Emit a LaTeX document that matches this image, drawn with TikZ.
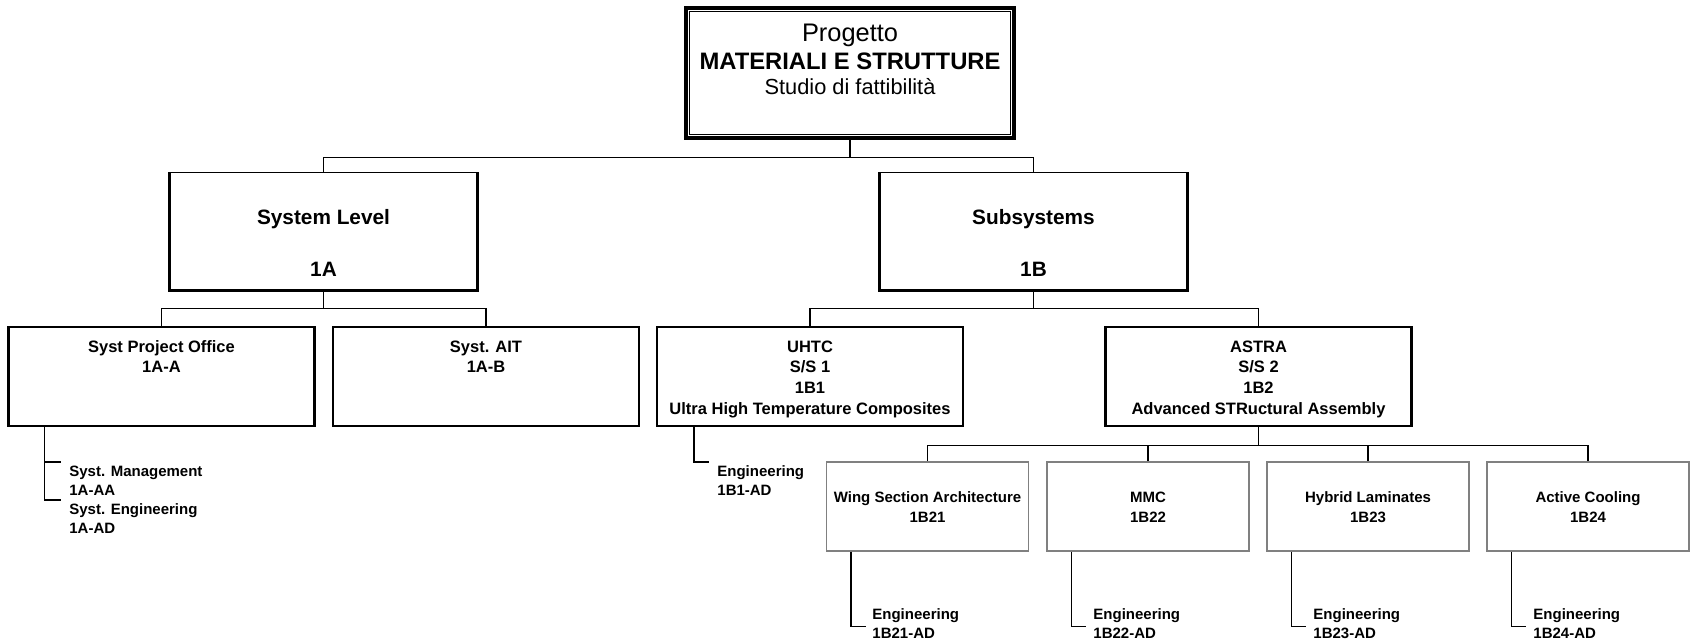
\documentclass[tikz,border=0pt]{standalone}
\usepackage{fontspec}
\setmainfont{Liberation Sans}
\begin{document}
\begin{tikzpicture}[x=0.5pt,y=-0.5pt,
  conn/.style={line width=0.65pt},
  subline/.style={line width=0.75pt},
  topbox/.style={draw,line width=1.6pt,fill=white,minimum width=164pt,minimum height=65pt,inner sep=0pt},
  lvtwo/.style={draw,line width=0.5pt,fill=white,minimum width=153.5pt,minimum height=58.5pt,inner sep=0pt},
  lvtwoedge/.style={line width=1.3pt},
  lvthree/.style={draw,line width=1.15pt,fill=white,minimum width=153pt,minimum height=49.5pt,inner sep=0pt},
  lvfour/.style={draw=black!50,line width=0.6pt,fill=white,minimum width=101pt,minimum height=44.5pt,inner sep=0pt},
  lbl/.style={inner sep=0pt,anchor=base,align=center},
  sublbl/.style={inner sep=0pt,anchor=base west,align=left,font=\fontsize{7.5}{9.5}\selectfont\bfseries},
  twofont/.style={font=\fontsize{10.4}{26}\selectfont\bfseries},
  threefont/.style={font=\fontsize{8.25}{10.35}\selectfont\bfseries},
  fourfont/.style={font=\fontsize{7.5}{10}\selectfont\bfseries}]
\useasboundingbox (0,0) rectangle (1690,641);

% project box with double frame
\node[topbox] (top) at (850,73) {};
\draw[line width=0.65pt] ([shift={(5,5)}]top.north west) rectangle ([shift={(-5,-5)}]top.south east);
\node[lbl,font=\fontsize{12.7}{14}\selectfont] (topa) at (850,42) {Progetto};
\node[lbl,font=\fontsize{11.9}{14}\selectfont\bfseries] (topb) at (850,69.5) {MATERIALI E STRUTTURE};
\node[lbl,font=\fontsize{10.9}{13}\selectfont] (topc) at (850,95) {Studio di fattibilità};

% second level (labels are placed by the baseline of their last line)
\node[lvtwo] (sl) at (323.5,231.5) {};
\node[lvtwo] (ss) at (1033.5,231.5) {};
\foreach \b in {sl,ss}
  \draw[lvtwoedge] (\b.north west) -- (\b.south west) -- (\b.south east) -- (\b.north east);
\node[lbl,twofont] (slt) at (323.5,276.5) {System Level\\1A};
\node[lbl,twofont] (sst) at (1033.5,276.5) {Subsystems\\1B};

% third level
\node[lvthree] (spo) at (161.5,376.5) {};
\node[lvthree] (ait) at (486,376.5) {};
\node[lvthree] (uhtc) at (810,376.5) {};
\node[lvthree] (astra) at (1258.5,376.5) {};
\node[lbl,threefont] (spot) at (161.5,372.7) {Syst Project Office\\1A-A};
\node[lbl,threefont] (aitt) at (486,372.7) {Syst. AIT\\1A-B};
\node[lbl,threefont] (uhtct) at (810,414.1) {UHTC\\S/S 1\\1B1\\Ultra High Temperature Composites};
\node[lbl,threefont] (astrat) at (1258.5,414.1) {ASTRA\\S/S 2\\1B2\\Advanced STRuctural Assembly};

% fourth level
\node[lvfour] (wsa) at (927.5,506.5) {};
\node[lvfour] (mmc) at (1148,506.5) {};
\node[lvfour] (hyb) at (1368,506.5) {};
\node[lvfour] (act) at (1588,506.5) {};
\node[lbl,fourfont] (wsat) at (927.5,522.4) {Wing Section Architecture\\1B21};
\node[lbl,fourfont] (mmct) at (1148,522.4) {MMC\\1B22};
\node[lbl,fourfont] (hybt) at (1368,522.4) {Hybrid Laminates\\1B23};
\node[lbl,fourfont] (actt) at (1588,522.4) {Active Cooling\\1B24};

% tree connectors
\draw[conn] (top.south) -- ++(0,18) -| (sl.north);
\draw[conn] (top.south) -- ++(0,18) -| (ss.north);
\draw[conn] (sl.south) -- ++(0,18) -| (spo.north);
\draw[conn] (sl.south) -- ++(0,18) -| (ait.north);
\draw[conn] (ss.south) -- ++(0,18) -| (uhtc.north);
\draw[conn] (ss.south) -- ++(0,18) -| (astra.north);
\foreach \b in {wsa,mmc,hyb,act}
  \draw[conn] (astra.south) -- ++(0,18) -| (\b.north);

% work packages listed below the boxes
\draw[subline] ([shift={(37,0)}]spo.south west) -- ++(0,73) -- ++(17,0);
\draw[subline] ([shift={(37,35)}]spo.south west) -- ++(17,0);
\node[sublbl] (spos) at (69,533.4) {Syst. Management\\1A-AA\\Syst. Engineering\\1A-AD};

\draw[subline] ([shift={(38,0)}]uhtc.south west) -- ++(0,35) -- ++(15,0);
\node[sublbl] (uhtcs) at (717,495.4) {Engineering\\1B1-AD};

\foreach \b/\c/\x in {wsa/1B21/872,mmc/1B22/1093,hyb/1B23/1313,act/1B24/1533}{
  \draw[subline] ([shift={(25,0)}]\b.south west) -- ++(0,75) -- ++(15,0);
  \node[sublbl] (\b s) at (\x,638.8) {Engineering\\\c-AD};
}
\end{tikzpicture}
\end{document}
